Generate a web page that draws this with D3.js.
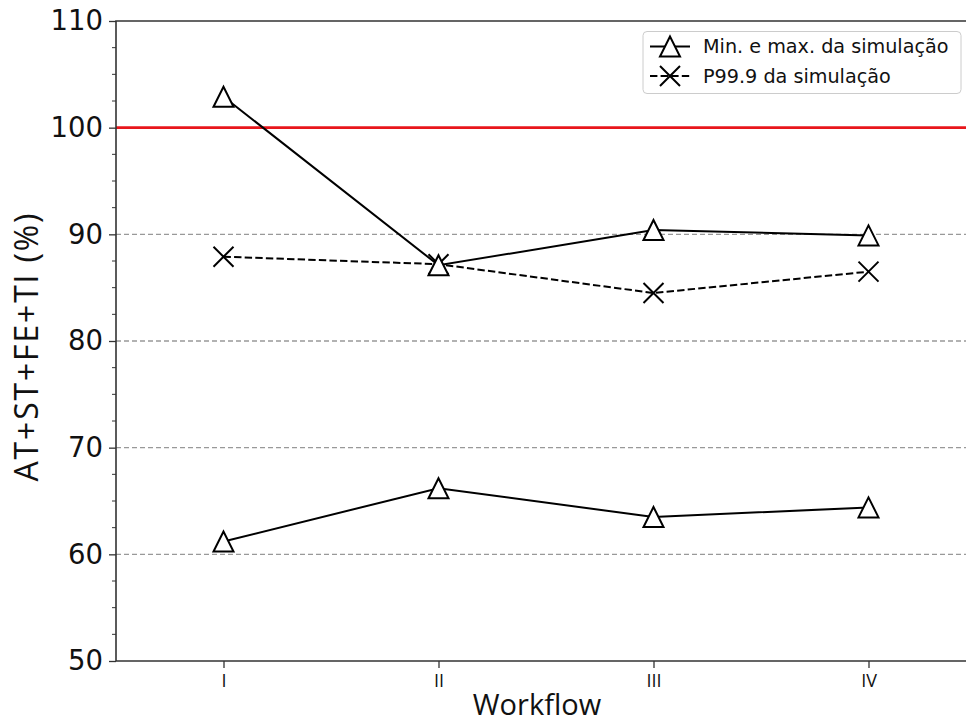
<!DOCTYPE html>
<html>
<head>
<meta charset="utf-8">
<script src="https://cdn.jsdelivr.net/npm/d3@7"></script>
<style>
  html, body { margin: 0; padding: 0; background: #fff; }
  svg { display: block; }
</style>
</head>
<body>
<svg id="chart" width="966" height="722"></svg>
<script>
// Workflow categories and simulated values (%)
const workflows = ["I", "II", "III", "IV"];
const maxValues = [102.9, 87.1, 90.4, 89.9];
const minValues = [61.2, 66.2, 63.5, 64.4];
const p999Values = [87.9, 87.2, 84.5, 86.5];
const yTicks = [50, 60, 70, 80, 90, 100, 110];
const gridValues = [60, 70, 80, 90];
const limitValue = 100;
const legendLabels = ["Min. e max. da simulação", "P99.9 da simulação"];

(function () {
const svg = d3.select("#chart");
const pLeft = 116, pRight = 976, pTop = 21, pBottom = 661;

const x = d3.scaleLinear().domain([-0.5, 3.5]).range([pLeft, pRight]);
const y = d3.scaleLinear().domain([50, 110]).range([pBottom, pTop]);

// dashed horizontal grid
svg.append("g").selectAll("line").data(gridValues).join("line")
  .attr("x1", pLeft).attr("x2", pRight)
  .attr("y1", d => y(d)).attr("y2", d => y(d))
  .attr("stroke", "#999").attr("stroke-width", 1.3)
  .attr("stroke-dasharray", "5,3");

// reference line at 100%
svg.append("line")
  .attr("x1", pLeft).attr("x2", pRight)
  .attr("y1", y(limitValue)).attr("y2", y(limitValue))
  .attr("stroke", "#e8161b").attr("stroke-width", 2.6);

// y axis
const yAxis = d3.axisLeft(y).tickValues(yTicks).tickSize(7).tickPadding(6).tickFormat(d3.format("d"));
const gy = svg.append("g").attr("transform", `translate(${pLeft},0)`).call(yAxis);
gy.select(".domain").remove();
gy.selectAll("line").attr("stroke", "#333").attr("stroke-width", 1.3);
gy.selectAll("text").attr("font-family", "DejaVu Sans").attr("font-size", 27.5).attr("fill", "#111");

// minor y ticks every 2.5
const minor = d3.range(50, 110.01, 2.5).filter(v => v % 10 !== 0);
svg.append("g").selectAll("line").data(minor).join("line")
  .attr("x1", pLeft - 4).attr("x2", pLeft)
  .attr("y1", d => y(d)).attr("y2", d => y(d))
  .attr("stroke", "#333").attr("stroke-width", 1);

// x axis
const xAxis = d3.axisBottom(x).tickValues(d3.range(workflows.length)).tickFormat(i => workflows[i]).tickSize(7).tickPadding(6);
const gx = svg.append("g").attr("transform", `translate(0,${pBottom})`).call(xAxis);
gx.select(".domain").remove();
gx.selectAll("line").attr("stroke", "#333").attr("stroke-width", 1.3);
gx.selectAll("text").attr("font-family", "Open Sans").attr("font-size", 18).attr("fill", "#111");

// spines
svg.append("path")
  .attr("d", `M${pRight},${pTop}H${pLeft}V${pBottom}H${pRight}`)
  .attr("fill", "none").attr("stroke", "#333").attr("stroke-width", 1.6);

// axis titles
svg.append("text").attr("x", 537).attr("y", 715).attr("text-anchor", "middle")
  .attr("font-family", "Open Sans").attr("font-size", 29).attr("fill", "#111").text("Workflow");
svg.append("text").attr("transform", `translate(38,347.5) rotate(-90)`)
  .attr("text-anchor", "middle")
  .attr("font-family", "Open Sans").attr("font-size", 32)
  .attr("textLength", 268).attr("lengthAdjust", "spacing")
  .attr("fill", "#111").text("AT+ST+FE+TI (%)");

const line = d3.line().x((d, i) => x(i)).y(d => y(d));
const markSize = 20;
function triangle(g, cx, cy) {
  const h = markSize / 2;
  g.append("path")
    .attr("d", `M${cx},${cy - h}L${cx - h},${cy + h}L${cx + h},${cy + h}Z`)
    .attr("fill", "#fff").attr("stroke", "#000").attr("stroke-width", 2);
}
function cross(g, cx, cy) {
  const h = markSize / 2;
  g.append("path")
    .attr("d", `M${cx - h},${cy - h}L${cx + h},${cy + h}M${cx - h},${cy + h}L${cx + h},${cy - h}`)
    .attr("fill", "none").attr("stroke", "#000").attr("stroke-width", 2);
}

const plot = svg.append("g");
// P99.9 series (dashed with crosses)
plot.append("path").datum(p999Values).attr("d", line)
  .attr("fill", "none").attr("stroke", "#000").attr("stroke-width", 2).attr("stroke-dasharray", "7.4,3.2");
p999Values.forEach((v, i) => cross(plot, x(i), y(v)));

// min and max series (solid with triangles)
[maxValues, minValues].forEach(series => {
  plot.append("path").datum(series).attr("d", line)
    .attr("fill", "none").attr("stroke", "#000").attr("stroke-width", 2);
  series.forEach((v, i) => triangle(plot, x(i), y(v)));
});

// legend
const lg = svg.append("g");
lg.append("rect").attr("x", 643).attr("y", 31.5).attr("width", 318).attr("height", 62)
  .attr("rx", 4).attr("fill", "#fff").attr("fill-opacity", 0.9)
  .attr("stroke", "#ccc").attr("stroke-width", 1);
const rows = [46.5, 76];
lg.append("line").attr("x1", 650).attr("x2", 690).attr("y1", rows[0]).attr("y2", rows[0])
  .attr("stroke", "#000").attr("stroke-width", 2);
triangle(lg, 670, rows[0]);
lg.append("line").attr("x1", 650).attr("x2", 690).attr("y1", rows[1]).attr("y2", rows[1])
  .attr("stroke", "#000").attr("stroke-width", 2).attr("stroke-dasharray", "7.4,3.2");
cross(lg, 670, rows[1]);
legendLabels.forEach((t, i) => {
  lg.append("text").attr("x", 703).attr("y", rows[i] + 6.5)
    .attr("font-family", "DejaVu Sans").attr("font-size", 19.2).attr("fill", "#111").text(t);
});
})();
</script>
</body>
</html>
